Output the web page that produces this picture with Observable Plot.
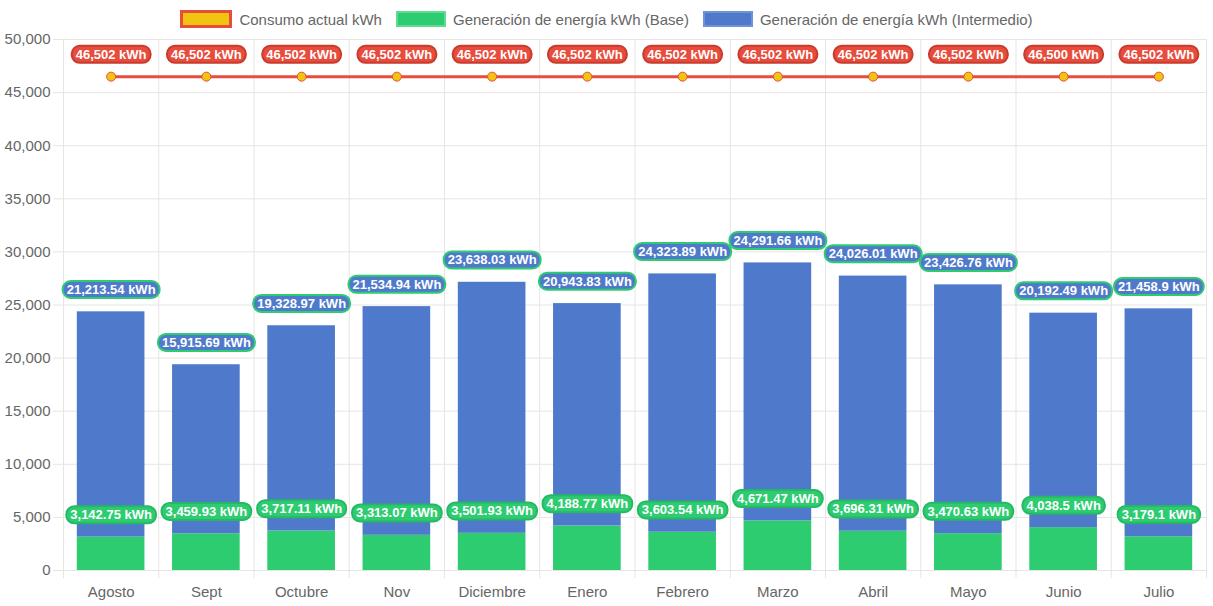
<!DOCTYPE html>
<html>
<head>
<meta charset="utf-8">
<script src="https://cdn.jsdelivr.net/npm/d3@7"></script>
<script src="https://cdn.jsdelivr.net/npm/@observablehq/plot@0.6"></script>
<style>
  body { margin: 0; background: #fff; font-family: "Liberation Sans", Arial, Helvetica, sans-serif; }
  #legend { height: 30px; display: flex; justify-content: center; align-items: center; gap: 0; padding-top: 8px; box-sizing: border-box; font-size: 15px; color: #666; }
  #legend .item { display: flex; align-items: center; margin: 0 7px; }
  #legend .sw { width: 46px; height: 12px; margin-right: 7px; box-sizing: content-box; }
</style>
</head>
<body>
<div id="legend"></div>
<div id="chart"></div>
<script>
const months = ["Agosto","Sept","Octubre","Nov","Diciembre","Enero","Febrero","Marzo","Abril","Mayo","Junio","Julio"];
const consumo = [46502,46502,46502,46502,46502,46502,46502,46502,46502,46502,46500,46502];
const base = [3142.75,3459.93,3717.11,3313.07,3501.93,4188.77,3603.54,4671.47,3696.31,3470.63,4038.5,3179.1];
const intermedio = [21213.54,15915.69,19328.97,21534.94,23638.03,20943.83,24323.89,24291.66,24026.01,23426.76,20192.49,21458.9];
const seriesNames = ["Consumo actual kWh","Generación de energía kWh (Base)","Generación de energía kWh (Intermedio)"];
const yTicks = [0,5000,10000,15000,20000,25000,30000,35000,40000,45000,50000];

const RED = "#e74c3c", RED_DARK = "#c93b2d", YELLOW = "#f1c40f";
const GREEN = "#2ecc71", GREEN_DARK = "#27b864", BLUE = "#4f7acb";

// legend
const legendItems = [
  {name: seriesNames[0], fill: YELLOW, border: `3px solid ${RED}`},
  {name: seriesNames[1], fill: GREEN, border: `2px solid #5fdc93`},
  {name: seriesNames[2], fill: BLUE, border: `2px solid #6f93d6`}
];
const leg = document.getElementById("legend");
for (const it of legendItems) {
  const d = document.createElement("div"); d.className = "item";
  const sw = document.createElement("span"); sw.className = "sw";
  sw.style.background = it.fill; sw.style.border = it.border;
  const t = document.createElement("span"); t.textContent = it.name;
  d.appendChild(sw); d.appendChild(t); leg.appendChild(d);
}

const stack = [];
months.forEach((m, i) => {
  stack.push({month: m, series: seriesNames[1], value: base[i]});
  stack.push({month: m, series: seriesNames[2], value: intermedio[i]});
});
const line = months.map((m, i) => ({month: m, value: consumo[i]}));
const fmt = v => v.toLocaleString("en-US", {maximumFractionDigits: 2}) + " kWh";
const baseLabels = months.map((m, i) => ({month: m, top: base[i], text: fmt(base[i])}));
const interLabels = months.map((m, i) => ({month: m, top: base[i] + intermedio[i], text: fmt(intermedio[i])}));
const lineLabels = line.map(d => ({month: d.month, top: d.value, text: fmt(d.value)}));

const W = 1213, H = 576, ML = 63, MR = 7, MT = 9, MB = 36;
const half = (W - ML - MR) / months.length / 2;
const barInset = 13.8;

const chart = Plot.plot({
  width: W, height: H,
  marginLeft: ML, marginRight: MR, marginTop: MT, marginBottom: MB,
  style: {fontFamily: '"Liberation Sans", Arial, Helvetica, sans-serif', fontSize: "15px", color: "#666", background: "#fff", overflow: "visible"},
  x: {domain: months, padding: 0, round: false, label: null, tickSize: 0, tickPadding: 16},
  y: {domain: [0, 50000], label: null, ticks: yTicks, tickFormat: d3.format(","), tickSize: 0, tickPadding: 13},
  color: {domain: seriesNames.slice(1), range: [GREEN, BLUE]},
  marks: [
    Plot.ruleY(yTicks, {stroke: "#e5e5e5", strokeOpacity: 1, insetLeft: -10}),
    Plot.ruleX(months, {x: d => d, dx: -half, y1: -750, y2: 50000, stroke: "#e5e5e5"}),
    Plot.ruleX([months[months.length - 1]], {x: d => d, dx: half, y1: -750, y2: 50000, stroke: "#e5e5e5"}),
    Plot.barY(stack, Plot.stackY({x: "month", y: "value", fill: "series", insetLeft: barInset, insetRight: barInset})),
    Plot.line(line, {x: "month", y: "value", stroke: RED, strokeWidth: 3}),
    Plot.dot(line, {x: "month", y: "value", r: 4.5, fill: YELLOW, stroke: RED, strokeWidth: 1}),
    Plot.text(lineLabels, {x: "month", y: "top", text: "text", dy: -22, fill: "#fff", fontWeight: "bold", fontSize: 13}),
    Plot.text(interLabels, {x: "month", y: "top", text: "text", dy: -22, fill: "#fff", fontWeight: "bold", fontSize: 13}),
    Plot.text(baseLabels, {x: "month", y: "top", text: "text", dy: -22, fill: "#fff", fontWeight: "bold", fontSize: 13})
  ]
});
document.getElementById("chart").appendChild(chart);

// add rounded boxes behind the data labels
const boxStyles = [
  {fill: RED, stroke: RED_DARK},
  {fill: BLUE, stroke: GREEN},
  {fill: GREEN, stroke: GREEN_DARK}
];
const textGroups = chart.querySelectorAll('g[aria-label="text"]');
textGroups.forEach((g, gi) => {
  const st = boxStyles[gi] || boxStyles[0];
  g.querySelectorAll("text").forEach(t => {
    const bb = t.getBBox();
    const r = document.createElementNS("http://www.w3.org/2000/svg", "rect");
    r.setAttribute("x", bb.x - 4);
    r.setAttribute("y", bb.y - 1);
    r.setAttribute("width", bb.width + 8);
    r.setAttribute("height", bb.height + 2);
    r.setAttribute("rx", 8);
    r.setAttribute("fill", st.fill);
    r.setAttribute("stroke", st.stroke);
    r.setAttribute("stroke-width", 2);
    if (t.getAttribute("transform")) r.setAttribute("transform", t.getAttribute("transform"));
    g.insertBefore(r, t);
  });
});
</script>
</body>
</html>
